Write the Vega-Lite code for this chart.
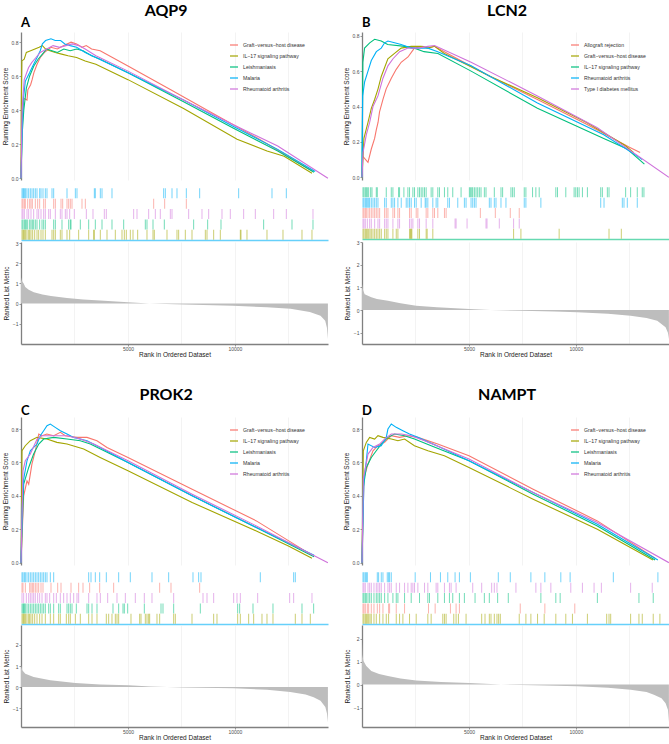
{
"$schema":"https://vega.github.io/schema/vega-lite/v6.json",
"padding":{"left":2,"top":3,"right":0,"bottom":0},
"background":"white",
"spacing":29,
"resolve":{"scale":{"color":"independent"},"legend":{"color":"independent"}},
"config":{
"font":"Liberation Sans",
"view":{"stroke":null},
"axis":{"labelFontSize":5,"labelColor":"#4D4D4D","titleFontSize":6.5,"titleFontWeight":"normal","titleColor":"#1A1A1A","domainColor":"#808080","domainWidth":1.3,"tickColor":"#808080","tickSize":2,"tickWidth":0.8,"labelPadding":1,"titlePadding":3,"gridColor":"#EBEBEB","gridWidth":0.6},
"axisX":{"labelPadding":0,"titlePadding":0},
"legend":{"labelFontSize":5.2,"labelColor":"#333333","symbolType":"stroke","symbolSize":64,"symbolStrokeWidth":1.2,"rowPadding":2,"labelOffset":4,"padding":0},
"title":{"font":"Lato","fontWeight":"bold","color":"#000000"}
},
"datasets":{
"esA":[
{"s":"Graft−versus−host disease","x":0,"y":0},{"s":"Graft−versus−host disease","x":50,"y":0.3},{"s":"Graft−versus−host disease","x":130,"y":0.47},{"s":"Graft−versus−host disease","x":280,"y":0.46},{"s":"Graft−versus−host disease","x":320,"y":0.52},{"s":"Graft−versus−host disease","x":450,"y":0.55},{"s":"Graft−versus−host disease","x":520,"y":0.58},{"s":"Graft−versus−host disease","x":600,"y":0.62},{"s":"Graft−versus−host disease","x":750,"y":0.67},{"s":"Graft−versus−host disease","x":900,"y":0.71},{"s":"Graft−versus−host disease","x":1100,"y":0.74},{"s":"Graft−versus−host disease","x":1400,"y":0.77},{"s":"Graft−versus−host disease","x":1700,"y":0.76},{"s":"Graft−versus−host disease","x":2000,"y":0.78},{"s":"Graft−versus−host disease","x":2340,"y":0.8},{"s":"Graft−versus−host disease","x":2600,"y":0.79},{"s":"Graft−versus−host disease","x":2850,"y":0.77},{"s":"Graft−versus−host disease","x":3050,"y":0.78},{"s":"Graft−versus−host disease","x":3300,"y":0.76},{"s":"Graft−versus−host disease","x":3700,"y":0.75},{"s":"Graft−versus−host disease","x":5000,"y":0.66},{"s":"Graft−versus−host disease","x":7000,"y":0.52},{"s":"Graft−versus−host disease","x":9000,"y":0.38},{"s":"Graft−versus−host disease","x":11000,"y":0.24},{"s":"Graft−versus−host disease","x":12500,"y":0.13},{"s":"Graft−versus−host disease","x":13650,"y":0.04},
{"s":"IL−17 signaling pathway","x":0,"y":0},{"s":"IL−17 signaling pathway","x":15,"y":0.45},{"s":"IL−17 signaling pathway","x":40,"y":0.69},{"s":"IL−17 signaling pathway","x":150,"y":0.7},{"s":"IL−17 signaling pathway","x":250,"y":0.74},{"s":"IL−17 signaling pathway","x":450,"y":0.75},{"s":"IL−17 signaling pathway","x":650,"y":0.76},{"s":"IL−17 signaling pathway","x":850,"y":0.77},{"s":"IL−17 signaling pathway","x":1000,"y":0.78},{"s":"IL−17 signaling pathway","x":1150,"y":0.76},{"s":"IL−17 signaling pathway","x":1350,"y":0.75},{"s":"IL−17 signaling pathway","x":1600,"y":0.74},{"s":"IL−17 signaling pathway","x":1900,"y":0.73},{"s":"IL−17 signaling pathway","x":2200,"y":0.72},{"s":"IL−17 signaling pathway","x":2600,"y":0.71},{"s":"IL−17 signaling pathway","x":3000,"y":0.69},{"s":"IL−17 signaling pathway","x":3500,"y":0.67},{"s":"IL−17 signaling pathway","x":5000,"y":0.58},{"s":"IL−17 signaling pathway","x":7600,"y":0.41},{"s":"IL−17 signaling pathway","x":10100,"y":0.23},{"s":"IL−17 signaling pathway","x":11500,"y":0.16},{"s":"IL−17 signaling pathway","x":12300,"y":0.13},{"s":"IL−17 signaling pathway","x":13600,"y":0.03},
{"s":"Leishmaniasis","x":0,"y":0},{"s":"Leishmaniasis","x":50,"y":0.25},{"s":"Leishmaniasis","x":130,"y":0.4},{"s":"Leishmaniasis","x":250,"y":0.53},{"s":"Leishmaniasis","x":400,"y":0.6},{"s":"Leishmaniasis","x":600,"y":0.66},{"s":"Leishmaniasis","x":800,"y":0.7},{"s":"Leishmaniasis","x":1000,"y":0.73},{"s":"Leishmaniasis","x":1200,"y":0.76},{"s":"Leishmaniasis","x":1450,"y":0.75},{"s":"Leishmaniasis","x":1700,"y":0.74},{"s":"Leishmaniasis","x":2000,"y":0.76},{"s":"Leishmaniasis","x":2300,"y":0.75},{"s":"Leishmaniasis","x":2600,"y":0.76},{"s":"Leishmaniasis","x":2900,"y":0.75},{"s":"Leishmaniasis","x":3300,"y":0.72},{"s":"Leishmaniasis","x":3700,"y":0.7},{"s":"Leishmaniasis","x":5000,"y":0.62},{"s":"Leishmaniasis","x":7600,"y":0.45},{"s":"Leishmaniasis","x":10000,"y":0.29},{"s":"Leishmaniasis","x":12000,"y":0.16},{"s":"Leishmaniasis","x":13700,"y":0.035},
{"s":"Malaria","x":0,"y":0},{"s":"Malaria","x":40,"y":0.2},{"s":"Malaria","x":100,"y":0.45},{"s":"Malaria","x":200,"y":0.57},{"s":"Malaria","x":400,"y":0.62},{"s":"Malaria","x":550,"y":0.66},{"s":"Malaria","x":750,"y":0.71},{"s":"Malaria","x":900,"y":0.75},{"s":"Malaria","x":1000,"y":0.79},{"s":"Malaria","x":1150,"y":0.81},{"s":"Malaria","x":1400,"y":0.82},{"s":"Malaria","x":1600,"y":0.81},{"s":"Malaria","x":1850,"y":0.81},{"s":"Malaria","x":2050,"y":0.79},{"s":"Malaria","x":2300,"y":0.78},{"s":"Malaria","x":2600,"y":0.77},{"s":"Malaria","x":3000,"y":0.74},{"s":"Malaria","x":3500,"y":0.71},{"s":"Malaria","x":5000,"y":0.62},{"s":"Malaria","x":7600,"y":0.46},{"s":"Malaria","x":10000,"y":0.3},{"s":"Malaria","x":12000,"y":0.17},{"s":"Malaria","x":13750,"y":0.04},
{"s":"Rheumatoid arthritis","x":0,"y":0},{"s":"Rheumatoid arthritis","x":50,"y":0.4},{"s":"Rheumatoid arthritis","x":150,"y":0.58},{"s":"Rheumatoid arthritis","x":350,"y":0.65},{"s":"Rheumatoid arthritis","x":500,"y":0.68},{"s":"Rheumatoid arthritis","x":700,"y":0.71},{"s":"Rheumatoid arthritis","x":900,"y":0.74},{"s":"Rheumatoid arthritis","x":1200,"y":0.76},{"s":"Rheumatoid arthritis","x":1500,"y":0.78},{"s":"Rheumatoid arthritis","x":1800,"y":0.77},{"s":"Rheumatoid arthritis","x":2100,"y":0.78},{"s":"Rheumatoid arthritis","x":2400,"y":0.79},{"s":"Rheumatoid arthritis","x":2700,"y":0.78},{"s":"Rheumatoid arthritis","x":3000,"y":0.76},{"s":"Rheumatoid arthritis","x":3500,"y":0.72},{"s":"Rheumatoid arthritis","x":5000,"y":0.63},{"s":"Rheumatoid arthritis","x":7600,"y":0.46},{"s":"Rheumatoid arthritis","x":10000,"y":0.31},{"s":"Rheumatoid arthritis","x":12000,"y":0.19},{"s":"Rheumatoid arthritis","x":14346,"y":0}
],
"tkA":[
{"s":"Malaria","x":47},{"s":"Malaria","x":93},{"s":"Malaria","x":125},{"s":"Malaria","x":171},{"s":"Malaria","x":218},{"s":"Malaria","x":280},{"s":"Malaria","x":358},{"s":"Malaria","x":436},{"s":"Malaria","x":514},{"s":"Malaria","x":592},{"s":"Malaria","x":670},{"s":"Malaria","x":748},{"s":"Malaria","x":872},{"s":"Malaria","x":935},{"s":"Malaria","x":1028},{"s":"Malaria","x":1137},{"s":"Malaria","x":1215},{"s":"Malaria","x":1449},{"s":"Malaria","x":1527},{"s":"Malaria","x":2150},{"s":"Malaria","x":2540},{"s":"Malaria","x":2617},{"s":"Malaria","x":3428},{"s":"Malaria","x":3474},{"s":"Malaria","x":3708},{"s":"Malaria","x":3786},{"s":"Malaria","x":4253},{"s":"Malaria","x":6668},{"s":"Malaria","x":6746},{"s":"Malaria","x":7058},{"s":"Malaria","x":7291},{"s":"Malaria","x":7728},{"s":"Malaria","x":8351},{"s":"Malaria","x":10174},{"s":"Malaria","x":11732},{"s":"Malaria","x":12402},
{"s":"Graft−versus−host disease","x":47},{"s":"Graft−versus−host disease","x":93},{"s":"Graft−versus−host disease","x":156},{"s":"Graft−versus−host disease","x":203},{"s":"Graft−versus−host disease","x":312},{"s":"Graft−versus−host disease","x":405},{"s":"Graft−versus−host disease","x":467},{"s":"Graft−versus−host disease","x":530},{"s":"Graft−versus−host disease","x":670},{"s":"Graft−versus−host disease","x":779},{"s":"Graft−versus−host disease","x":872},{"s":"Graft−versus−host disease","x":1059},{"s":"Graft−versus−host disease","x":1137},{"s":"Graft−versus−host disease","x":1527},{"s":"Graft−versus−host disease","x":1605},{"s":"Graft−versus−host disease","x":1870},{"s":"Graft−versus−host disease","x":1948},{"s":"Graft−versus−host disease","x":2150},{"s":"Graft−versus−host disease","x":2228},{"s":"Graft−versus−host disease","x":2306},{"s":"Graft−versus−host disease","x":2384},{"s":"Graft−versus−host disease","x":2851},{"s":"Graft−versus−host disease","x":3007},{"s":"Graft−versus−host disease","x":6201},{"s":"Graft−versus−host disease","x":6715},{"s":"Graft−versus−host disease","x":7728},
{"s":"Rheumatoid arthritis","x":47},{"s":"Rheumatoid arthritis","x":93},{"s":"Rheumatoid arthritis","x":156},{"s":"Rheumatoid arthritis","x":280},{"s":"Rheumatoid arthritis","x":358},{"s":"Rheumatoid arthritis","x":467},{"s":"Rheumatoid arthritis","x":592},{"s":"Rheumatoid arthritis","x":748},{"s":"Rheumatoid arthritis","x":826},{"s":"Rheumatoid arthritis","x":935},{"s":"Rheumatoid arthritis","x":1059},{"s":"Rheumatoid arthritis","x":1137},{"s":"Rheumatoid arthritis","x":1293},{"s":"Rheumatoid arthritis","x":1371},{"s":"Rheumatoid arthritis","x":1605},{"s":"Rheumatoid arthritis","x":1838},{"s":"Rheumatoid arthritis","x":1916},{"s":"Rheumatoid arthritis","x":2072},{"s":"Rheumatoid arthritis","x":2150},{"s":"Rheumatoid arthritis","x":2275},{"s":"Rheumatoid arthritis","x":2493},{"s":"Rheumatoid arthritis","x":3054},{"s":"Rheumatoid arthritis","x":3365},{"s":"Rheumatoid arthritis","x":3895},{"s":"Rheumatoid arthritis","x":3988},{"s":"Rheumatoid arthritis","x":5266},{"s":"Rheumatoid arthritis","x":5422},{"s":"Rheumatoid arthritis","x":5967},{"s":"Rheumatoid arthritis","x":6279},{"s":"Rheumatoid arthritis","x":6512},{"s":"Rheumatoid arthritis","x":6980},{"s":"Rheumatoid arthritis","x":7058},{"s":"Rheumatoid arthritis","x":7837},{"s":"Rheumatoid arthritis","x":8460},{"s":"Rheumatoid arthritis","x":8772},{"s":"Rheumatoid arthritis","x":9395},{"s":"Rheumatoid arthritis","x":9784},{"s":"Rheumatoid arthritis","x":10407},{"s":"Rheumatoid arthritis","x":10953},{"s":"Rheumatoid arthritis","x":11810},{"s":"Rheumatoid arthritis","x":12402},{"s":"Rheumatoid arthritis","x":13648},
{"s":"Leishmaniasis","x":47},{"s":"Leishmaniasis","x":93},{"s":"Leishmaniasis","x":156},{"s":"Leishmaniasis","x":203},{"s":"Leishmaniasis","x":249},{"s":"Leishmaniasis","x":312},{"s":"Leishmaniasis","x":405},{"s":"Leishmaniasis","x":467},{"s":"Leishmaniasis","x":530},{"s":"Leishmaniasis","x":592},{"s":"Leishmaniasis","x":670},{"s":"Leishmaniasis","x":748},{"s":"Leishmaniasis","x":872},{"s":"Leishmaniasis","x":982},{"s":"Leishmaniasis","x":1059},{"s":"Leishmaniasis","x":1137},{"s":"Leishmaniasis","x":1527},{"s":"Leishmaniasis","x":1605},{"s":"Leishmaniasis","x":1916},{"s":"Leishmaniasis","x":2228},{"s":"Leishmaniasis","x":2306},{"s":"Leishmaniasis","x":2337},{"s":"Leishmaniasis","x":2773},{"s":"Leishmaniasis","x":3163},{"s":"Leishmaniasis","x":3474},{"s":"Leishmaniasis","x":3786},{"s":"Leishmaniasis","x":4253},{"s":"Leishmaniasis","x":4799},{"s":"Leishmaniasis","x":5811},{"s":"Leishmaniasis","x":5889},{"s":"Leishmaniasis","x":6170},{"s":"Leishmaniasis","x":6699},{"s":"Leishmaniasis","x":8070},{"s":"Leishmaniasis","x":8725},{"s":"Leishmaniasis","x":9348},{"s":"Leishmaniasis","x":11342},{"s":"Leishmaniasis","x":12667},{"s":"Leishmaniasis","x":13648},
{"s":"IL−17 signaling pathway","x":47},{"s":"IL−17 signaling pathway","x":93},{"s":"IL−17 signaling pathway","x":125},{"s":"IL−17 signaling pathway","x":171},{"s":"IL−17 signaling pathway","x":218},{"s":"IL−17 signaling pathway","x":280},{"s":"IL−17 signaling pathway","x":358},{"s":"IL−17 signaling pathway","x":405},{"s":"IL−17 signaling pathway","x":467},{"s":"IL−17 signaling pathway","x":545},{"s":"IL−17 signaling pathway","x":639},{"s":"IL−17 signaling pathway","x":748},{"s":"IL−17 signaling pathway","x":826},{"s":"IL−17 signaling pathway","x":935},{"s":"IL−17 signaling pathway","x":1028},{"s":"IL−17 signaling pathway","x":1137},{"s":"IL−17 signaling pathway","x":1449},{"s":"IL−17 signaling pathway","x":1527},{"s":"IL−17 signaling pathway","x":1605},{"s":"IL−17 signaling pathway","x":1838},{"s":"IL−17 signaling pathway","x":1916},{"s":"IL−17 signaling pathway","x":2150},{"s":"IL−17 signaling pathway","x":2275},{"s":"IL−17 signaling pathway","x":2695},{"s":"IL−17 signaling pathway","x":3163},{"s":"IL−17 signaling pathway","x":3396},{"s":"IL−17 signaling pathway","x":3428},{"s":"IL−17 signaling pathway","x":3708},{"s":"IL−17 signaling pathway","x":4020},{"s":"IL−17 signaling pathway","x":4409},{"s":"IL−17 signaling pathway","x":4721},{"s":"IL−17 signaling pathway","x":4830},{"s":"IL−17 signaling pathway","x":4923},{"s":"IL−17 signaling pathway","x":5110},{"s":"IL−17 signaling pathway","x":5235},{"s":"IL−17 signaling pathway","x":5453},{"s":"IL−17 signaling pathway","x":5889},{"s":"IL−17 signaling pathway","x":6170},{"s":"IL−17 signaling pathway","x":6232},{"s":"IL−17 signaling pathway","x":6824},{"s":"IL−17 signaling pathway","x":7291},{"s":"IL−17 signaling pathway","x":7369},{"s":"IL−17 signaling pathway","x":7681},{"s":"IL−17 signaling pathway","x":7993},{"s":"IL−17 signaling pathway","x":8616},{"s":"IL−17 signaling pathway","x":8694},{"s":"IL−17 signaling pathway","x":9005},{"s":"IL−17 signaling pathway","x":9317},{"s":"IL−17 signaling pathway","x":10252},{"s":"IL−17 signaling pathway","x":10283},{"s":"IL−17 signaling pathway","x":10563},{"s":"IL−17 signaling pathway","x":11498},{"s":"IL−17 signaling pathway","x":12246},{"s":"IL−17 signaling pathway","x":13134},{"s":"IL−17 signaling pathway","x":13601}
],
"rkA":[{"x":0,"y":1.3},{"x":30,"y":1.15},{"x":125,"y":1.0},{"x":200,"y":0.82},{"x":360,"y":0.68},{"x":600,"y":0.56},{"x":1000,"y":0.45},{"x":1400,"y":0.38},{"x":2150,"y":0.28},{"x":2900,"y":0.2},{"x":3700,"y":0.15},{"x":5000,"y":0.07},{"x":6000,"y":0.01},{"x":7600,"y":-0.04},{"x":9900,"y":-0.11},{"x":11500,"y":-0.18},{"x":12600,"y":-0.26},{"x":13500,"y":-0.42},{"x":14000,"y":-0.6},{"x":14220,"y":-0.85},{"x":14300,"y":-1.2},{"x":14346,"y":-1.75}],
"esB":[
{"s":"Allograft rejection","x":0,"y":0},{"s":"Allograft rejection","x":30,"y":0.12},{"s":"Allograft rejection","x":280,"y":0.085},{"s":"Allograft rejection","x":435,"y":0.16},{"s":"Allograft rejection","x":590,"y":0.22},{"s":"Allograft rejection","x":670,"y":0.27},{"s":"Allograft rejection","x":750,"y":0.31},{"s":"Allograft rejection","x":820,"y":0.37},{"s":"Allograft rejection","x":980,"y":0.44},{"s":"Allograft rejection","x":1130,"y":0.5},{"s":"Allograft rejection","x":1370,"y":0.56},{"s":"Allograft rejection","x":1600,"y":0.61},{"s":"Allograft rejection","x":1830,"y":0.65},{"s":"Allograft rejection","x":2150,"y":0.68},{"s":"Allograft rejection","x":2450,"y":0.73},{"s":"Allograft rejection","x":2840,"y":0.74},{"s":"Allograft rejection","x":3080,"y":0.73},{"s":"Allograft rejection","x":3390,"y":0.74},{"s":"Allograft rejection","x":4000,"y":0.7},{"s":"Allograft rejection","x":6000,"y":0.57},{"s":"Allograft rejection","x":8200,"y":0.44},{"s":"Allograft rejection","x":10500,"y":0.3},{"s":"Allograft rejection","x":12500,"y":0.17},{"s":"Allograft rejection","x":13000,"y":0.14},
{"s":"Graft−versus−host disease","x":0,"y":0},{"s":"Graft−versus−host disease","x":90,"y":0.22},{"s":"Graft−versus−host disease","x":280,"y":0.31},{"s":"Graft−versus−host disease","x":435,"y":0.39},{"s":"Graft−versus−host disease","x":590,"y":0.44},{"s":"Graft−versus−host disease","x":750,"y":0.5},{"s":"Graft−versus−host disease","x":900,"y":0.57},{"s":"Graft−versus−host disease","x":1210,"y":0.67},{"s":"Graft−versus−host disease","x":1520,"y":0.7},{"s":"Graft−versus−host disease","x":1830,"y":0.73},{"s":"Graft−versus−host disease","x":2300,"y":0.74},{"s":"Graft−versus−host disease","x":2770,"y":0.74},{"s":"Graft−versus−host disease","x":3080,"y":0.73},{"s":"Graft−versus−host disease","x":3390,"y":0.74},{"s":"Graft−versus−host disease","x":3850,"y":0.7},{"s":"Graft−versus−host disease","x":6000,"y":0.57},{"s":"Graft−versus−host disease","x":8200,"y":0.45},{"s":"Graft−versus−host disease","x":10500,"y":0.31},{"s":"Graft−versus−host disease","x":12300,"y":0.18},{"s":"Graft−versus−host disease","x":12700,"y":0.14},
{"s":"IL−17 signaling pathway","x":0,"y":0},{"s":"IL−17 signaling pathway","x":40,"y":0.65},{"s":"IL−17 signaling pathway","x":120,"y":0.73},{"s":"IL−17 signaling pathway","x":360,"y":0.76},{"s":"IL−17 signaling pathway","x":590,"y":0.78},{"s":"IL−17 signaling pathway","x":900,"y":0.77},{"s":"IL−17 signaling pathway","x":1200,"y":0.75},{"s":"IL−17 signaling pathway","x":2000,"y":0.74},{"s":"IL−17 signaling pathway","x":2450,"y":0.73},{"s":"IL−17 signaling pathway","x":2900,"y":0.71},{"s":"IL−17 signaling pathway","x":3550,"y":0.7},{"s":"IL−17 signaling pathway","x":5100,"y":0.6},{"s":"IL−17 signaling pathway","x":8200,"y":0.39},{"s":"IL−17 signaling pathway","x":11300,"y":0.22},{"s":"IL−17 signaling pathway","x":12400,"y":0.16},{"s":"IL−17 signaling pathway","x":13200,"y":0.075},
{"s":"Rheumatoid arthritis","x":0,"y":0},{"s":"Rheumatoid arthritis","x":30,"y":0.46},{"s":"Rheumatoid arthritis","x":124,"y":0.54},{"s":"Rheumatoid arthritis","x":280,"y":0.6},{"s":"Rheumatoid arthritis","x":435,"y":0.66},{"s":"Rheumatoid arthritis","x":670,"y":0.71},{"s":"Rheumatoid arthritis","x":900,"y":0.73},{"s":"Rheumatoid arthritis","x":1057,"y":0.76},{"s":"Rheumatoid arthritis","x":1212,"y":0.77},{"s":"Rheumatoid arthritis","x":1520,"y":0.76},{"s":"Rheumatoid arthritis","x":1830,"y":0.75},{"s":"Rheumatoid arthritis","x":2300,"y":0.73},{"s":"Rheumatoid arthritis","x":2770,"y":0.73},{"s":"Rheumatoid arthritis","x":3080,"y":0.73},{"s":"Rheumatoid arthritis","x":3540,"y":0.71},{"s":"Rheumatoid arthritis","x":5100,"y":0.63},{"s":"Rheumatoid arthritis","x":8200,"y":0.42},{"s":"Rheumatoid arthritis","x":11300,"y":0.24},{"s":"Rheumatoid arthritis","x":12870,"y":0.12},{"s":"Rheumatoid arthritis","x":13100,"y":0.1},
{"s":"Type I diabetes mellitus","x":0,"y":0},{"s":"Type I diabetes mellitus","x":47,"y":0.14},{"s":"Type I diabetes mellitus","x":200,"y":0.24},{"s":"Type I diabetes mellitus","x":357,"y":0.31},{"s":"Type I diabetes mellitus","x":513,"y":0.4},{"s":"Type I diabetes mellitus","x":746,"y":0.46},{"s":"Type I diabetes mellitus","x":980,"y":0.56},{"s":"Type I diabetes mellitus","x":1212,"y":0.63},{"s":"Type I diabetes mellitus","x":1450,"y":0.67},{"s":"Type I diabetes mellitus","x":1760,"y":0.71},{"s":"Type I diabetes mellitus","x":2145,"y":0.73},{"s":"Type I diabetes mellitus","x":2610,"y":0.73},{"s":"Type I diabetes mellitus","x":3080,"y":0.74},{"s":"Type I diabetes mellitus","x":3390,"y":0.745},{"s":"Type I diabetes mellitus","x":5100,"y":0.65},{"s":"Type I diabetes mellitus","x":8200,"y":0.46},{"s":"Type I diabetes mellitus","x":11000,"y":0.28},{"s":"Type I diabetes mellitus","x":14346,"y":0}
],
"tkB":[
{"s":"IL−17 signaling pathway","x":47},{"s":"IL−17 signaling pathway","x":93},{"s":"IL−17 signaling pathway","x":155},{"s":"IL−17 signaling pathway","x":202},{"s":"IL−17 signaling pathway","x":249},{"s":"IL−17 signaling pathway","x":311},{"s":"IL−17 signaling pathway","x":404},{"s":"IL−17 signaling pathway","x":466},{"s":"IL−17 signaling pathway","x":668},{"s":"IL−17 signaling pathway","x":715},{"s":"IL−17 signaling pathway","x":1134},{"s":"IL−17 signaling pathway","x":1368},{"s":"IL−17 signaling pathway","x":1445},{"s":"IL−17 signaling pathway","x":1709},{"s":"IL−17 signaling pathway","x":1756},{"s":"IL−17 signaling pathway","x":1958},{"s":"IL−17 signaling pathway","x":2145},{"s":"IL−17 signaling pathway","x":2222},{"s":"IL−17 signaling pathway","x":2378},{"s":"IL−17 signaling pathway","x":2455},{"s":"IL−17 signaling pathway","x":2611},{"s":"IL−17 signaling pathway","x":2688},{"s":"IL−17 signaling pathway","x":2766},{"s":"IL−17 signaling pathway","x":2844},{"s":"IL−17 signaling pathway","x":2922},{"s":"IL−17 signaling pathway","x":2999},{"s":"IL−17 signaling pathway","x":3232},{"s":"IL−17 signaling pathway","x":3310},{"s":"IL−17 signaling pathway","x":3543},{"s":"IL−17 signaling pathway","x":3621},{"s":"IL−17 signaling pathway","x":3854},{"s":"IL−17 signaling pathway","x":4009},{"s":"IL−17 signaling pathway","x":4242},{"s":"IL−17 signaling pathway","x":4631},{"s":"IL−17 signaling pathway","x":5019},{"s":"IL−17 signaling pathway","x":5066},{"s":"IL−17 signaling pathway","x":5128},{"s":"IL−17 signaling pathway","x":5175},{"s":"IL−17 signaling pathway","x":5253},{"s":"IL−17 signaling pathway","x":5330},{"s":"IL−17 signaling pathway","x":5408},{"s":"IL−17 signaling pathway","x":5486},{"s":"IL−17 signaling pathway","x":5563},{"s":"IL−17 signaling pathway","x":5719},{"s":"IL−17 signaling pathway","x":5796},{"s":"IL−17 signaling pathway","x":6185},{"s":"IL−17 signaling pathway","x":6496},{"s":"IL−17 signaling pathway","x":6573},{"s":"IL−17 signaling pathway","x":6962},{"s":"IL−17 signaling pathway","x":7040},{"s":"IL−17 signaling pathway","x":7117},{"s":"IL−17 signaling pathway","x":7584},{"s":"IL−17 signaling pathway","x":7661},{"s":"IL−17 signaling pathway","x":7972},{"s":"IL−17 signaling pathway","x":8127},{"s":"IL−17 signaling pathway","x":8283},{"s":"IL−17 signaling pathway","x":9060},{"s":"IL−17 signaling pathway","x":9138},{"s":"IL−17 signaling pathway","x":9526},{"s":"IL−17 signaling pathway","x":9915},{"s":"IL−17 signaling pathway","x":9992},{"s":"IL−17 signaling pathway","x":10070},{"s":"IL−17 signaling pathway","x":10148},{"s":"IL−17 signaling pathway","x":10303},{"s":"IL−17 signaling pathway","x":10536},{"s":"IL−17 signaling pathway","x":11158},{"s":"IL−17 signaling pathway","x":11235},{"s":"IL−17 signaling pathway","x":11468},{"s":"IL−17 signaling pathway","x":11546},{"s":"IL−17 signaling pathway","x":12323},{"s":"IL−17 signaling pathway","x":12556},{"s":"IL−17 signaling pathway","x":12867},{"s":"IL−17 signaling pathway","x":13100},{"s":"IL−17 signaling pathway","x":13178},
{"s":"Rheumatoid arthritis","x":47},{"s":"Rheumatoid arthritis","x":93},{"s":"Rheumatoid arthritis","x":155},{"s":"Rheumatoid arthritis","x":202},{"s":"Rheumatoid arthritis","x":249},{"s":"Rheumatoid arthritis","x":311},{"s":"Rheumatoid arthritis","x":357},{"s":"Rheumatoid arthritis","x":435},{"s":"Rheumatoid arthritis","x":513},{"s":"Rheumatoid arthritis","x":591},{"s":"Rheumatoid arthritis","x":668},{"s":"Rheumatoid arthritis","x":746},{"s":"Rheumatoid arthritis","x":1057},{"s":"Rheumatoid arthritis","x":1134},{"s":"Rheumatoid arthritis","x":1368},{"s":"Rheumatoid arthritis","x":1445},{"s":"Rheumatoid arthritis","x":1523},{"s":"Rheumatoid arthritis","x":1678},{"s":"Rheumatoid arthritis","x":1834},{"s":"Rheumatoid arthritis","x":2067},{"s":"Rheumatoid arthritis","x":2145},{"s":"Rheumatoid arthritis","x":2222},{"s":"Rheumatoid arthritis","x":2300},{"s":"Rheumatoid arthritis","x":2455},{"s":"Rheumatoid arthritis","x":2533},{"s":"Rheumatoid arthritis","x":2766},{"s":"Rheumatoid arthritis","x":2953},{"s":"Rheumatoid arthritis","x":2999},{"s":"Rheumatoid arthritis","x":3077},{"s":"Rheumatoid arthritis","x":3310},{"s":"Rheumatoid arthritis","x":3465},{"s":"Rheumatoid arthritis","x":3543},{"s":"Rheumatoid arthritis","x":4009},{"s":"Rheumatoid arthritis","x":4087},{"s":"Rheumatoid arthritis","x":4476},{"s":"Rheumatoid arthritis","x":4786},{"s":"Rheumatoid arthritis","x":4864},{"s":"Rheumatoid arthritis","x":5097},{"s":"Rheumatoid arthritis","x":5175},{"s":"Rheumatoid arthritis","x":5253},{"s":"Rheumatoid arthritis","x":5330},{"s":"Rheumatoid arthritis","x":5952},{"s":"Rheumatoid arthritis","x":6029},{"s":"Rheumatoid arthritis","x":6185},{"s":"Rheumatoid arthritis","x":6263},{"s":"Rheumatoid arthritis","x":6496},{"s":"Rheumatoid arthritis","x":6729},{"s":"Rheumatoid arthritis","x":7584},{"s":"Rheumatoid arthritis","x":7661},{"s":"Rheumatoid arthritis","x":8361},{"s":"Rheumatoid arthritis","x":11158},{"s":"Rheumatoid arthritis","x":11313},{"s":"Rheumatoid arthritis","x":12168},{"s":"Rheumatoid arthritis","x":12246},{"s":"Rheumatoid arthritis","x":12401},{"s":"Rheumatoid arthritis","x":12867},
{"s":"Allograft rejection","x":47},{"s":"Allograft rejection","x":93},{"s":"Allograft rejection","x":155},{"s":"Allograft rejection","x":202},{"s":"Allograft rejection","x":280},{"s":"Allograft rejection","x":357},{"s":"Allograft rejection","x":435},{"s":"Allograft rejection","x":513},{"s":"Allograft rejection","x":591},{"s":"Allograft rejection","x":668},{"s":"Allograft rejection","x":746},{"s":"Allograft rejection","x":824},{"s":"Allograft rejection","x":1057},{"s":"Allograft rejection","x":1134},{"s":"Allograft rejection","x":1212},{"s":"Allograft rejection","x":1445},{"s":"Allograft rejection","x":1523},{"s":"Allograft rejection","x":1678},{"s":"Allograft rejection","x":1756},{"s":"Allograft rejection","x":2222},{"s":"Allograft rejection","x":2300},{"s":"Allograft rejection","x":2533},{"s":"Allograft rejection","x":2611},{"s":"Allograft rejection","x":2999},{"s":"Allograft rejection","x":3077},{"s":"Allograft rejection","x":3310},{"s":"Allograft rejection","x":3388},{"s":"Allograft rejection","x":3543},{"s":"Allograft rejection","x":3854},{"s":"Allograft rejection","x":3932},{"s":"Allograft rejection","x":5532},{"s":"Allograft rejection","x":6232},{"s":"Allograft rejection","x":6931},{"s":"Allograft rejection","x":7350},
{"s":"Type I diabetes mellitus","x":47},{"s":"Type I diabetes mellitus","x":93},{"s":"Type I diabetes mellitus","x":155},{"s":"Type I diabetes mellitus","x":249},{"s":"Type I diabetes mellitus","x":357},{"s":"Type I diabetes mellitus","x":435},{"s":"Type I diabetes mellitus","x":591},{"s":"Type I diabetes mellitus","x":746},{"s":"Type I diabetes mellitus","x":824},{"s":"Type I diabetes mellitus","x":1057},{"s":"Type I diabetes mellitus","x":1134},{"s":"Type I diabetes mellitus","x":1212},{"s":"Type I diabetes mellitus","x":1445},{"s":"Type I diabetes mellitus","x":1678},{"s":"Type I diabetes mellitus","x":1756},{"s":"Type I diabetes mellitus","x":2222},{"s":"Type I diabetes mellitus","x":2300},{"s":"Type I diabetes mellitus","x":2378},{"s":"Type I diabetes mellitus","x":2611},{"s":"Type I diabetes mellitus","x":2688},{"s":"Type I diabetes mellitus","x":2999},{"s":"Type I diabetes mellitus","x":3310},{"s":"Type I diabetes mellitus","x":4351},{"s":"Type I diabetes mellitus","x":4398},{"s":"Type I diabetes mellitus","x":4911},{"s":"Type I diabetes mellitus","x":5796},{"s":"Type I diabetes mellitus","x":5843},{"s":"Type I diabetes mellitus","x":6418},{"s":"Type I diabetes mellitus","x":7086},{"s":"Type I diabetes mellitus","x":7350},
{"s":"Graft−versus−host disease","x":47},{"s":"Graft−versus−host disease","x":93},{"s":"Graft−versus−host disease","x":155},{"s":"Graft−versus−host disease","x":202},{"s":"Graft−versus−host disease","x":249},{"s":"Graft−versus−host disease","x":311},{"s":"Graft−versus−host disease","x":373},{"s":"Graft−versus−host disease","x":435},{"s":"Graft−versus−host disease","x":513},{"s":"Graft−versus−host disease","x":591},{"s":"Graft−versus−host disease","x":668},{"s":"Graft−versus−host disease","x":746},{"s":"Graft−versus−host disease","x":824},{"s":"Graft−versus−host disease","x":901},{"s":"Graft−versus−host disease","x":1057},{"s":"Graft−versus−host disease","x":1134},{"s":"Graft−versus−host disease","x":1212},{"s":"Graft−versus−host disease","x":1445},{"s":"Graft−versus−host disease","x":1601},{"s":"Graft−versus−host disease","x":1678},{"s":"Graft−versus−host disease","x":2222},{"s":"Graft−versus−host disease","x":2269},{"s":"Graft−versus−host disease","x":2300},{"s":"Graft−versus−host disease","x":2331},{"s":"Graft−versus−host disease","x":2611},{"s":"Graft−versus−host disease","x":2688},{"s":"Graft−versus−host disease","x":2999},{"s":"Graft−versus−host disease","x":3046},{"s":"Graft−versus−host disease","x":3310},{"s":"Graft−versus−host disease","x":7086},{"s":"Graft−versus−host disease","x":7428},{"s":"Graft−versus−host disease","x":9215},{"s":"Graft−versus−host disease","x":11546},{"s":"Graft−versus−host disease","x":12121}
],
"rkB":[{"x":0,"y":1.15},{"x":40,"y":0.9},{"x":124,"y":0.7},{"x":435,"y":0.56},{"x":700,"y":0.48},{"x":1212,"y":0.41},{"x":1800,"y":0.3},{"x":2533,"y":0.19},{"x":3500,"y":0.12},{"x":5019,"y":0.04},{"x":6000,"y":0.0},{"x":7428,"y":-0.03},{"x":9000,"y":-0.07},{"x":10070,"y":-0.1},{"x":11500,"y":-0.16},{"x":12556,"y":-0.25},{"x":13300,"y":-0.35},{"x":13800,"y":-0.47},{"x":14190,"y":-0.76},{"x":14300,"y":-1.0},{"x":14346,"y":-1.28}],
"esC":[
{"s":"Graft−versus−host disease","x":0,"y":0},{"s":"Graft−versus−host disease","x":125,"y":0.4},{"s":"Graft−versus−host disease","x":280,"y":0.49},{"s":"Graft−versus−host disease","x":360,"y":0.47},{"s":"Graft−versus−host disease","x":510,"y":0.59},{"s":"Graft−versus−host disease","x":670,"y":0.67},{"s":"Graft−versus−host disease","x":830,"y":0.77},{"s":"Graft−versus−host disease","x":980,"y":0.76},{"s":"Graft−versus−host disease","x":1210,"y":0.77},{"s":"Graft−versus−host disease","x":1530,"y":0.76},{"s":"Graft−versus−host disease","x":1840,"y":0.78},{"s":"Graft−versus−host disease","x":2070,"y":0.76},{"s":"Graft−versus−host disease","x":2620,"y":0.75},{"s":"Graft−versus−host disease","x":3085,"y":0.75},{"s":"Graft−versus−host disease","x":3550,"y":0.73},{"s":"Graft−versus−host disease","x":4020,"y":0.69},{"s":"Graft−versus−host disease","x":5000,"y":0.63},{"s":"Graft−versus−host disease","x":8000,"y":0.44},{"s":"Graft−versus−host disease","x":11000,"y":0.25},{"s":"Graft−versus−host disease","x":13600,"y":0.045},
{"s":"IL−17 signaling pathway","x":0,"y":0},{"s":"IL−17 signaling pathway","x":47,"y":0.67},{"s":"IL−17 signaling pathway","x":200,"y":0.7},{"s":"IL−17 signaling pathway","x":436,"y":0.73},{"s":"IL−17 signaling pathway","x":750,"y":0.75},{"s":"IL−17 signaling pathway","x":1210,"y":0.74},{"s":"IL−17 signaling pathway","x":1680,"y":0.72},{"s":"IL−17 signaling pathway","x":2150,"y":0.71},{"s":"IL−17 signaling pathway","x":2930,"y":0.68},{"s":"IL−17 signaling pathway","x":3700,"y":0.63},{"s":"IL−17 signaling pathway","x":5000,"y":0.55},{"s":"IL−17 signaling pathway","x":8000,"y":0.36},{"s":"IL−17 signaling pathway","x":11000,"y":0.19},{"s":"IL−17 signaling pathway","x":12500,"y":0.1},{"s":"IL−17 signaling pathway","x":13600,"y":0.026},
{"s":"Leishmaniasis","x":0,"y":0},{"s":"Leishmaniasis","x":125,"y":0.47},{"s":"Leishmaniasis","x":360,"y":0.57},{"s":"Leishmaniasis","x":590,"y":0.65},{"s":"Leishmaniasis","x":830,"y":0.71},{"s":"Leishmaniasis","x":1060,"y":0.74},{"s":"Leishmaniasis","x":1530,"y":0.75},{"s":"Leishmaniasis","x":2150,"y":0.74},{"s":"Leishmaniasis","x":2770,"y":0.73},{"s":"Leishmaniasis","x":3240,"y":0.71},{"s":"Leishmaniasis","x":5000,"y":0.6},{"s":"Leishmaniasis","x":8000,"y":0.4},{"s":"Leishmaniasis","x":11000,"y":0.21},{"s":"Leishmaniasis","x":13700,"y":0.036},
{"s":"Malaria","x":0,"y":0},{"s":"Malaria","x":47,"y":0.32},{"s":"Malaria","x":125,"y":0.5},{"s":"Malaria","x":280,"y":0.61},{"s":"Malaria","x":436,"y":0.67},{"s":"Malaria","x":590,"y":0.69},{"s":"Malaria","x":750,"y":0.71},{"s":"Malaria","x":900,"y":0.76},{"s":"Malaria","x":1060,"y":0.79},{"s":"Malaria","x":1215,"y":0.82},{"s":"Malaria","x":1370,"y":0.83},{"s":"Malaria","x":1600,"y":0.81},{"s":"Malaria","x":1840,"y":0.79},{"s":"Malaria","x":2150,"y":0.77},{"s":"Malaria","x":2460,"y":0.75},{"s":"Malaria","x":3085,"y":0.73},{"s":"Malaria","x":3700,"y":0.69},{"s":"Malaria","x":5000,"y":0.6},{"s":"Malaria","x":8000,"y":0.4},{"s":"Malaria","x":11000,"y":0.21},{"s":"Malaria","x":13700,"y":0.045},
{"s":"Rheumatoid arthritis","x":0,"y":0},{"s":"Rheumatoid arthritis","x":93,"y":0.55},{"s":"Rheumatoid arthritis","x":200,"y":0.61},{"s":"Rheumatoid arthritis","x":436,"y":0.65},{"s":"Rheumatoid arthritis","x":750,"y":0.74},{"s":"Rheumatoid arthritis","x":980,"y":0.76},{"s":"Rheumatoid arthritis","x":1530,"y":0.76},{"s":"Rheumatoid arthritis","x":2150,"y":0.76},{"s":"Rheumatoid arthritis","x":2770,"y":0.74},{"s":"Rheumatoid arthritis","x":3400,"y":0.71},{"s":"Rheumatoid arthritis","x":5000,"y":0.61},{"s":"Rheumatoid arthritis","x":8000,"y":0.41},{"s":"Rheumatoid arthritis","x":11000,"y":0.22},{"s":"Rheumatoid arthritis","x":14346,"y":0}
],
"tkC":[
{"s":"Malaria","x":47},{"s":"Malaria","x":93},{"s":"Malaria","x":156},{"s":"Malaria","x":203},{"s":"Malaria","x":280},{"s":"Malaria","x":358},{"s":"Malaria","x":436},{"s":"Malaria","x":514},{"s":"Malaria","x":592},{"s":"Malaria","x":670},{"s":"Malaria","x":748},{"s":"Malaria","x":826},{"s":"Malaria","x":904},{"s":"Malaria","x":982},{"s":"Malaria","x":1059},{"s":"Malaria","x":1137},{"s":"Malaria","x":1215},{"s":"Malaria","x":1371},{"s":"Malaria","x":1527},{"s":"Malaria","x":3163},{"s":"Malaria","x":3272},{"s":"Malaria","x":3474},{"s":"Malaria","x":3677},{"s":"Malaria","x":3988},{"s":"Malaria","x":4565},{"s":"Malaria","x":5110},{"s":"Malaria","x":6123},{"s":"Malaria","x":6902},{"s":"Malaria","x":8039},{"s":"Malaria","x":8304},{"s":"Malaria","x":8413},{"s":"Malaria","x":11186},{"s":"Malaria","x":12744},{"s":"Malaria","x":12822},
{"s":"Graft−versus−host disease","x":47},{"s":"Graft−versus−host disease","x":93},{"s":"Graft−versus−host disease","x":203},{"s":"Graft−versus−host disease","x":405},{"s":"Graft−versus−host disease","x":467},{"s":"Graft−versus−host disease","x":530},{"s":"Graft−versus−host disease","x":592},{"s":"Graft−versus−host disease","x":670},{"s":"Graft−versus−host disease","x":748},{"s":"Graft−versus−host disease","x":826},{"s":"Graft−versus−host disease","x":935},{"s":"Graft−versus−host disease","x":1028},{"s":"Graft−versus−host disease","x":1402},{"s":"Graft−versus−host disease","x":1714},{"s":"Graft−versus−host disease","x":1870},{"s":"Graft−versus−host disease","x":2337},{"s":"Graft−versus−host disease","x":2695},{"s":"Graft−versus−host disease","x":2898},{"s":"Graft−versus−host disease","x":3209},{"s":"Graft−versus−host disease","x":3677},{"s":"Graft−versus−host disease","x":4331},{"s":"Graft−versus−host disease","x":6481},{"s":"Graft−versus−host disease","x":7011},{"s":"Graft−versus−host disease","x":8351},
{"s":"Rheumatoid arthritis","x":47},{"s":"Rheumatoid arthritis","x":125},{"s":"Rheumatoid arthritis","x":249},{"s":"Rheumatoid arthritis","x":358},{"s":"Rheumatoid arthritis","x":436},{"s":"Rheumatoid arthritis","x":514},{"s":"Rheumatoid arthritis","x":592},{"s":"Rheumatoid arthritis","x":670},{"s":"Rheumatoid arthritis","x":779},{"s":"Rheumatoid arthritis","x":872},{"s":"Rheumatoid arthritis","x":982},{"s":"Rheumatoid arthritis","x":1137},{"s":"Rheumatoid arthritis","x":1215},{"s":"Rheumatoid arthritis","x":1340},{"s":"Rheumatoid arthritis","x":1527},{"s":"Rheumatoid arthritis","x":1652},{"s":"Rheumatoid arthritis","x":1838},{"s":"Rheumatoid arthritis","x":1994},{"s":"Rheumatoid arthritis","x":2150},{"s":"Rheumatoid arthritis","x":2306},{"s":"Rheumatoid arthritis","x":2462},{"s":"Rheumatoid arthritis","x":2617},{"s":"Rheumatoid arthritis","x":2695},{"s":"Rheumatoid arthritis","x":3163},{"s":"Rheumatoid arthritis","x":3552},{"s":"Rheumatoid arthritis","x":3708},{"s":"Rheumatoid arthritis","x":4051},{"s":"Rheumatoid arthritis","x":4487},{"s":"Rheumatoid arthritis","x":4877},{"s":"Rheumatoid arthritis","x":5344},{"s":"Rheumatoid arthritis","x":5765},{"s":"Rheumatoid arthritis","x":6123},{"s":"Rheumatoid arthritis","x":7136},{"s":"Rheumatoid arthritis","x":8507},{"s":"Rheumatoid arthritis","x":8694},{"s":"Rheumatoid arthritis","x":9005},{"s":"Rheumatoid arthritis","x":9940},{"s":"Rheumatoid arthritis","x":10096},{"s":"Rheumatoid arthritis","x":10252},{"s":"Rheumatoid arthritis","x":11062},{"s":"Rheumatoid arthritis","x":12557},{"s":"Rheumatoid arthritis","x":12744},{"s":"Rheumatoid arthritis","x":13601},
{"s":"Leishmaniasis","x":47},{"s":"Leishmaniasis","x":93},{"s":"Leishmaniasis","x":125},{"s":"Leishmaniasis","x":156},{"s":"Leishmaniasis","x":203},{"s":"Leishmaniasis","x":280},{"s":"Leishmaniasis","x":358},{"s":"Leishmaniasis","x":436},{"s":"Leishmaniasis","x":514},{"s":"Leishmaniasis","x":592},{"s":"Leishmaniasis","x":670},{"s":"Leishmaniasis","x":748},{"s":"Leishmaniasis","x":826},{"s":"Leishmaniasis","x":904},{"s":"Leishmaniasis","x":982},{"s":"Leishmaniasis","x":1059},{"s":"Leishmaniasis","x":1137},{"s":"Leishmaniasis","x":1293},{"s":"Leishmaniasis","x":1371},{"s":"Leishmaniasis","x":1527},{"s":"Leishmaniasis","x":1760},{"s":"Leishmaniasis","x":1838},{"s":"Leishmaniasis","x":2150},{"s":"Leishmaniasis","x":2228},{"s":"Leishmaniasis","x":2306},{"s":"Leishmaniasis","x":2384},{"s":"Leishmaniasis","x":2586},{"s":"Leishmaniasis","x":3085},{"s":"Leishmaniasis","x":3163},{"s":"Leishmaniasis","x":3319},{"s":"Leishmaniasis","x":3552},{"s":"Leishmaniasis","x":4300},{"s":"Leishmaniasis","x":4565},{"s":"Leishmaniasis","x":4767},{"s":"Leishmaniasis","x":4830},{"s":"Leishmaniasis","x":4986},{"s":"Leishmaniasis","x":5765},{"s":"Leishmaniasis","x":6544},{"s":"Leishmaniasis","x":6637},{"s":"Leishmaniasis","x":7136},{"s":"Leishmaniasis","x":8382},{"s":"Leishmaniasis","x":10127},{"s":"Leishmaniasis","x":10220},{"s":"Leishmaniasis","x":10844},{"s":"Leishmaniasis","x":11778},{"s":"Leishmaniasis","x":13134},{"s":"Leishmaniasis","x":13679},
{"s":"IL−17 signaling pathway","x":47},{"s":"IL−17 signaling pathway","x":93},{"s":"IL−17 signaling pathway","x":125},{"s":"IL−17 signaling pathway","x":171},{"s":"IL−17 signaling pathway","x":218},{"s":"IL−17 signaling pathway","x":280},{"s":"IL−17 signaling pathway","x":358},{"s":"IL−17 signaling pathway","x":405},{"s":"IL−17 signaling pathway","x":467},{"s":"IL−17 signaling pathway","x":545},{"s":"IL−17 signaling pathway","x":639},{"s":"IL−17 signaling pathway","x":748},{"s":"IL−17 signaling pathway","x":872},{"s":"IL−17 signaling pathway","x":982},{"s":"IL−17 signaling pathway","x":1137},{"s":"IL−17 signaling pathway","x":1371},{"s":"IL−17 signaling pathway","x":1527},{"s":"IL−17 signaling pathway","x":1760},{"s":"IL−17 signaling pathway","x":1838},{"s":"IL−17 signaling pathway","x":2119},{"s":"IL−17 signaling pathway","x":2228},{"s":"IL−17 signaling pathway","x":2306},{"s":"IL−17 signaling pathway","x":2540},{"s":"IL−17 signaling pathway","x":2773},{"s":"IL−17 signaling pathway","x":3163},{"s":"IL−17 signaling pathway","x":3319},{"s":"IL−17 signaling pathway","x":3552},{"s":"IL−17 signaling pathway","x":3988},{"s":"IL−17 signaling pathway","x":4098},{"s":"IL−17 signaling pathway","x":4253},{"s":"IL−17 signaling pathway","x":4409},{"s":"IL−17 signaling pathway","x":4487},{"s":"IL−17 signaling pathway","x":4565},{"s":"IL−17 signaling pathway","x":5141},{"s":"IL−17 signaling pathway","x":5546},{"s":"IL−17 signaling pathway","x":5609},{"s":"IL−17 signaling pathway","x":5811},{"s":"IL−17 signaling pathway","x":5889},{"s":"IL−17 signaling pathway","x":5967},{"s":"IL−17 signaling pathway","x":6014},{"s":"IL−17 signaling pathway","x":6356},{"s":"IL−17 signaling pathway","x":6481},{"s":"IL−17 signaling pathway","x":7136},{"s":"IL−17 signaling pathway","x":7213},{"s":"IL−17 signaling pathway","x":7993},{"s":"IL−17 signaling pathway","x":9005},{"s":"IL−17 signaling pathway","x":9161},{"s":"IL−17 signaling pathway","x":10127},{"s":"IL−17 signaling pathway","x":10252},{"s":"IL−17 signaling pathway","x":10641},{"s":"IL−17 signaling pathway","x":10875},{"s":"IL−17 signaling pathway","x":11264},{"s":"IL−17 signaling pathway","x":11498},{"s":"IL−17 signaling pathway","x":11778},{"s":"IL−17 signaling pathway","x":12822},{"s":"IL−17 signaling pathway","x":13134},{"s":"IL−17 signaling pathway","x":13523}
],
"rkC":[{"x":0,"y":1.03},{"x":60,"y":0.8},{"x":203,"y":0.63},{"x":592,"y":0.48},{"x":1371,"y":0.32},{"x":2540,"y":0.19},{"x":3700,"y":0.12},{"x":5032,"y":0.08},{"x":6045,"y":0.02},{"x":7600,"y":-0.02},{"x":9940,"y":-0.06},{"x":11500,"y":-0.13},{"x":12589,"y":-0.24},{"x":13300,"y":-0.35},{"x":13679,"y":-0.48},{"x":14000,"y":-0.65},{"x":14225,"y":-0.95},{"x":14300,"y":-1.25},{"x":14346,"y":-1.67}],
"esD":[
{"s":"Graft−versus−host disease","x":0,"y":0},{"s":"Graft−versus−host disease","x":93,"y":0.51},{"s":"Graft−versus−host disease","x":280,"y":0.59},{"s":"Graft−versus−host disease","x":513,"y":0.67},{"s":"Graft−versus−host disease","x":746,"y":0.7},{"s":"Graft−versus−host disease","x":1057,"y":0.72},{"s":"Graft−versus−host disease","x":1370,"y":0.76},{"s":"Graft−versus−host disease","x":1760,"y":0.75},{"s":"Graft−versus−host disease","x":2145,"y":0.76},{"s":"Graft−versus−host disease","x":2610,"y":0.75},{"s":"Graft−versus−host disease","x":3540,"y":0.71},{"s":"Graft−versus−host disease","x":5000,"y":0.64},{"s":"Graft−versus−host disease","x":8000,"y":0.44},{"s":"Graft−versus−host disease","x":11000,"y":0.25},{"s":"Graft−versus−host disease","x":13700,"y":0.026},
{"s":"IL−17 signaling pathway","x":0,"y":0},{"s":"IL−17 signaling pathway","x":62,"y":0.67},{"s":"IL−17 signaling pathway","x":202,"y":0.72},{"s":"IL−17 signaling pathway","x":357,"y":0.75},{"s":"IL−17 signaling pathway","x":590,"y":0.74},{"s":"IL−17 signaling pathway","x":746,"y":0.76},{"s":"IL−17 signaling pathway","x":980,"y":0.75},{"s":"IL−17 signaling pathway","x":1370,"y":0.74},{"s":"IL−17 signaling pathway","x":1680,"y":0.73},{"s":"IL−17 signaling pathway","x":1990,"y":0.74},{"s":"IL−17 signaling pathway","x":2450,"y":0.7},{"s":"IL−17 signaling pathway","x":3080,"y":0.67},{"s":"IL−17 signaling pathway","x":3850,"y":0.64},{"s":"IL−17 signaling pathway","x":5000,"y":0.57},{"s":"IL−17 signaling pathway","x":8000,"y":0.38},{"s":"IL−17 signaling pathway","x":11000,"y":0.2},{"s":"IL−17 signaling pathway","x":13600,"y":0.016},
{"s":"Leishmaniasis","x":0,"y":0},{"s":"Leishmaniasis","x":62,"y":0.45},{"s":"Leishmaniasis","x":202,"y":0.57},{"s":"Leishmaniasis","x":435,"y":0.63},{"s":"Leishmaniasis","x":668,"y":0.67},{"s":"Leishmaniasis","x":901,"y":0.71},{"s":"Leishmaniasis","x":1212,"y":0.75},{"s":"Leishmaniasis","x":1523,"y":0.77},{"s":"Leishmaniasis","x":1989,"y":0.76},{"s":"Leishmaniasis","x":2455,"y":0.74},{"s":"Leishmaniasis","x":3232,"y":0.7},{"s":"Leishmaniasis","x":5000,"y":0.61},{"s":"Leishmaniasis","x":8000,"y":0.41},{"s":"Leishmaniasis","x":11000,"y":0.22},{"s":"Leishmaniasis","x":13700,"y":0.016},
{"s":"Malaria","x":0,"y":0},{"s":"Malaria","x":93,"y":0.5},{"s":"Malaria","x":202,"y":0.61},{"s":"Malaria","x":280,"y":0.71},{"s":"Malaria","x":590,"y":0.69},{"s":"Malaria","x":900,"y":0.7},{"s":"Malaria","x":1134,"y":0.75},{"s":"Malaria","x":1212,"y":0.8},{"s":"Malaria","x":1370,"y":0.83},{"s":"Malaria","x":1600,"y":0.81},{"s":"Malaria","x":1910,"y":0.79},{"s":"Malaria","x":2220,"y":0.77},{"s":"Malaria","x":2610,"y":0.75},{"s":"Malaria","x":3500,"y":0.7},{"s":"Malaria","x":5000,"y":0.61},{"s":"Malaria","x":8000,"y":0.42},{"s":"Malaria","x":11000,"y":0.23},{"s":"Malaria","x":13830,"y":0.016},
{"s":"Rheumatoid arthritis","x":0,"y":0},{"s":"Rheumatoid arthritis","x":62,"y":0.5},{"s":"Rheumatoid arthritis","x":280,"y":0.65},{"s":"Rheumatoid arthritis","x":513,"y":0.69},{"s":"Rheumatoid arthritis","x":824,"y":0.71},{"s":"Rheumatoid arthritis","x":1057,"y":0.74},{"s":"Rheumatoid arthritis","x":1368,"y":0.77},{"s":"Rheumatoid arthritis","x":1834,"y":0.77},{"s":"Rheumatoid arthritis","x":2300,"y":0.76},{"s":"Rheumatoid arthritis","x":2922,"y":0.73},{"s":"Rheumatoid arthritis","x":5000,"y":0.62},{"s":"Rheumatoid arthritis","x":8000,"y":0.42},{"s":"Rheumatoid arthritis","x":11000,"y":0.24},{"s":"Rheumatoid arthritis","x":14346,"y":0}
],
"tkD":[
{"s":"Malaria","x":47},{"s":"Malaria","x":93},{"s":"Malaria","x":155},{"s":"Malaria","x":202},{"s":"Malaria","x":249},{"s":"Malaria","x":715},{"s":"Malaria","x":777},{"s":"Malaria","x":901},{"s":"Malaria","x":979},{"s":"Malaria","x":1181},{"s":"Malaria","x":1243},{"s":"Malaria","x":1290},{"s":"Malaria","x":1368},{"s":"Malaria","x":2486},{"s":"Malaria","x":3201},{"s":"Malaria","x":3667},{"s":"Malaria","x":4009},{"s":"Malaria","x":4351},{"s":"Malaria","x":4553},{"s":"Malaria","x":5066},{"s":"Malaria","x":6371},{"s":"Malaria","x":6931},{"s":"Malaria","x":7894},{"s":"Malaria","x":8547},{"s":"Malaria","x":9293},{"s":"Malaria","x":9728},{"s":"Malaria","x":11748},{"s":"Malaria","x":13831},
{"s":"Rheumatoid arthritis","x":47},{"s":"Rheumatoid arthritis","x":93},{"s":"Rheumatoid arthritis","x":155},{"s":"Rheumatoid arthritis","x":280},{"s":"Rheumatoid arthritis","x":357},{"s":"Rheumatoid arthritis","x":435},{"s":"Rheumatoid arthritis","x":559},{"s":"Rheumatoid arthritis","x":668},{"s":"Rheumatoid arthritis","x":746},{"s":"Rheumatoid arthritis","x":824},{"s":"Rheumatoid arthritis","x":901},{"s":"Rheumatoid arthritis","x":1057},{"s":"Rheumatoid arthritis","x":1212},{"s":"Rheumatoid arthritis","x":1290},{"s":"Rheumatoid arthritis","x":1368},{"s":"Rheumatoid arthritis","x":1601},{"s":"Rheumatoid arthritis","x":1756},{"s":"Rheumatoid arthritis","x":1989},{"s":"Rheumatoid arthritis","x":2145},{"s":"Rheumatoid arthritis","x":2300},{"s":"Rheumatoid arthritis","x":2378},{"s":"Rheumatoid arthritis","x":2455},{"s":"Rheumatoid arthritis","x":2611},{"s":"Rheumatoid arthritis","x":2922},{"s":"Rheumatoid arthritis","x":3077},{"s":"Rheumatoid arthritis","x":3465},{"s":"Rheumatoid arthritis","x":3543},{"s":"Rheumatoid arthritis","x":3854},{"s":"Rheumatoid arthritis","x":4087},{"s":"Rheumatoid arthritis","x":4165},{"s":"Rheumatoid arthritis","x":4398},{"s":"Rheumatoid arthritis","x":5175},{"s":"Rheumatoid arthritis","x":5594},{"s":"Rheumatoid arthritis","x":6061},{"s":"Rheumatoid arthritis","x":6185},{"s":"Rheumatoid arthritis","x":6309},{"s":"Rheumatoid arthritis","x":7195},{"s":"Rheumatoid arthritis","x":8127},{"s":"Rheumatoid arthritis","x":8361},{"s":"Rheumatoid arthritis","x":8827},{"s":"Rheumatoid arthritis","x":9759},{"s":"Rheumatoid arthritis","x":10303},{"s":"Rheumatoid arthritis","x":10847},{"s":"Rheumatoid arthritis","x":11189},{"s":"Rheumatoid arthritis","x":12556},{"s":"Rheumatoid arthritis","x":13566},
{"s":"Leishmaniasis","x":47},{"s":"Leishmaniasis","x":93},{"s":"Leishmaniasis","x":155},{"s":"Leishmaniasis","x":202},{"s":"Leishmaniasis","x":280},{"s":"Leishmaniasis","x":357},{"s":"Leishmaniasis","x":435},{"s":"Leishmaniasis","x":559},{"s":"Leishmaniasis","x":668},{"s":"Leishmaniasis","x":746},{"s":"Leishmaniasis","x":824},{"s":"Leishmaniasis","x":901},{"s":"Leishmaniasis","x":1057},{"s":"Leishmaniasis","x":1212},{"s":"Leishmaniasis","x":1445},{"s":"Leishmaniasis","x":1601},{"s":"Leishmaniasis","x":1678},{"s":"Leishmaniasis","x":1989},{"s":"Leishmaniasis","x":2300},{"s":"Leishmaniasis","x":2688},{"s":"Leishmaniasis","x":3077},{"s":"Leishmaniasis","x":3155},{"s":"Leishmaniasis","x":3543},{"s":"Leishmaniasis","x":3854},{"s":"Leishmaniasis","x":4087},{"s":"Leishmaniasis","x":4242},{"s":"Leishmaniasis","x":4553},{"s":"Leishmaniasis","x":4786},{"s":"Leishmaniasis","x":5284},{"s":"Leishmaniasis","x":5719},{"s":"Leishmaniasis","x":5952},{"s":"Leishmaniasis","x":6340},{"s":"Leishmaniasis","x":6838},{"s":"Leishmaniasis","x":8361},{"s":"Leishmaniasis","x":9060},{"s":"Leishmaniasis","x":9262},{"s":"Leishmaniasis","x":11002},{"s":"Leishmaniasis","x":12945},{"s":"Leishmaniasis","x":13613},
{"s":"Graft−versus−host disease","x":47},{"s":"Graft−versus−host disease","x":93},{"s":"Graft−versus−host disease","x":155},{"s":"Graft−versus−host disease","x":249},{"s":"Graft−versus−host disease","x":311},{"s":"Graft−versus−host disease","x":435},{"s":"Graft−versus−host disease","x":559},{"s":"Graft−versus−host disease","x":715},{"s":"Graft−versus−host disease","x":824},{"s":"Graft−versus−host disease","x":979},{"s":"Graft−versus−host disease","x":1243},{"s":"Graft−versus−host disease","x":1290},{"s":"Graft−versus−host disease","x":1601},{"s":"Graft−versus−host disease","x":1989},{"s":"Graft−versus−host disease","x":3108},{"s":"Graft−versus−host disease","x":3419},{"s":"Graft−versus−host disease","x":4134},{"s":"Graft−versus−host disease","x":4398},{"s":"Graft−versus−host disease","x":4553},{"s":"Graft−versus−host disease","x":7397},{"s":"Graft−versus−host disease","x":8547},{"s":"Graft−versus−host disease","x":9946},
{"s":"IL−17 signaling pathway","x":47},{"s":"IL−17 signaling pathway","x":93},{"s":"IL−17 signaling pathway","x":155},{"s":"IL−17 signaling pathway","x":202},{"s":"IL−17 signaling pathway","x":249},{"s":"IL−17 signaling pathway","x":311},{"s":"IL−17 signaling pathway","x":373},{"s":"IL−17 signaling pathway","x":435},{"s":"IL−17 signaling pathway","x":559},{"s":"IL−17 signaling pathway","x":668},{"s":"IL−17 signaling pathway","x":824},{"s":"IL−17 signaling pathway","x":979},{"s":"IL−17 signaling pathway","x":1134},{"s":"IL−17 signaling pathway","x":1243},{"s":"IL−17 signaling pathway","x":1601},{"s":"IL−17 signaling pathway","x":1756},{"s":"IL−17 signaling pathway","x":1911},{"s":"IL−17 signaling pathway","x":2222},{"s":"IL−17 signaling pathway","x":2533},{"s":"IL−17 signaling pathway","x":3077},{"s":"IL−17 signaling pathway","x":3232},{"s":"IL−17 signaling pathway","x":3776},{"s":"IL−17 signaling pathway","x":3854},{"s":"IL−17 signaling pathway","x":3932},{"s":"IL−17 signaling pathway","x":4289},{"s":"IL−17 signaling pathway","x":4398},{"s":"IL−17 signaling pathway","x":4507},{"s":"IL−17 signaling pathway","x":4864},{"s":"IL−17 signaling pathway","x":5594},{"s":"IL−17 signaling pathway","x":5750},{"s":"IL−17 signaling pathway","x":5952},{"s":"IL−17 signaling pathway","x":6029},{"s":"IL−17 signaling pathway","x":6185},{"s":"IL−17 signaling pathway","x":6309},{"s":"IL−17 signaling pathway","x":6387},{"s":"IL−17 signaling pathway","x":6465},{"s":"IL−17 signaling pathway","x":7350},{"s":"IL−17 signaling pathway","x":7661},{"s":"IL−17 signaling pathway","x":7894},{"s":"IL−17 signaling pathway","x":8205},{"s":"IL−17 signaling pathway","x":8516},{"s":"IL−17 signaling pathway","x":9060},{"s":"IL−17 signaling pathway","x":9526},{"s":"IL−17 signaling pathway","x":9837},{"s":"IL−17 signaling pathway","x":10536},{"s":"IL−17 signaling pathway","x":11437},{"s":"IL−17 signaling pathway","x":11546},{"s":"IL−17 signaling pathway","x":11624},{"s":"IL−17 signaling pathway","x":12556},{"s":"IL−17 signaling pathway","x":12945},{"s":"IL−17 signaling pathway","x":13100},{"s":"IL−17 signaling pathway","x":13613},{"s":"IL−17 signaling pathway","x":13924}
],
"rkD":[{"x":0,"y":1.85},{"x":20,"y":1.3},{"x":62,"y":1.04},{"x":202,"y":0.81},{"x":435,"y":0.59},{"x":800,"y":0.46},{"x":1212,"y":0.37},{"x":1800,"y":0.27},{"x":2533,"y":0.18},{"x":3700,"y":0.11},{"x":5019,"y":0.07},{"x":6500,"y":0.0},{"x":8000,"y":-0.03},{"x":10070,"y":-0.07},{"x":11500,"y":-0.14},{"x":12556,"y":-0.22},{"x":13300,"y":-0.32},{"x":13644,"y":-0.44},{"x":14000,"y":-0.6},{"x":14190,"y":-0.81},{"x":14300,"y":-1.1},{"x":14346,"y":-1.63}]
},
"vconcat":[
{"hconcat":[
{"title":{"text":"AQP9","anchor":"middle","frame":"bounds","fontSize":16,"offset":-2},
"spacing":1,
"resolve":{"scale":{"color":"independent"},"legend":{"color":"independent"}},
"vconcat":[
{"title":{"text":"A","anchor":"start","frame":"group","fontSize":13,"offset":2},
"width":307,"height":148,"data":{"name":"esA"},
"mark":{"type":"line","strokeWidth":1.1},
"encoding":{
"x":{"field":"x","type":"quantitative","scale":{"domain":[0,14350],"nice":false,"zero":false},"axis":{"labels":false,"ticks":false,"domain":false,"title":null,"grid":true,"values":[2500,5000,7500,10000,12500]}},
"y":{"field":"y","type":"quantitative","scale":{"domain":[-0.01,0.86],"nice":false,"zero":false},"axis":{"values":[0,0.2,0.4,0.6,0.8],"format":".1f","title":"Running Enrichment Score","grid":false}},
"color":{"field":"s","type":"nominal","scale":{"domain":["Graft−versus−host disease","IL−17 signaling pathway","Leishmaniasis","Malaria","Rheumatoid arthritis"],"range":["#F8766D","#A3A500","#00BF7D","#00B0F6","#CF72DB"]},"legend":{"title":null,"orient":"none","legendX":208,"legendY":8}}}},
{"width":307,"height":57,"data":{"name":"tkA"},
"mark":{"type":"tick","thickness":1,"size":10,"opacity":0.55},
"encoding":{
"x":{"field":"x","type":"quantitative","scale":{"domain":[0,14350],"nice":false,"zero":false},"axis":{"labels":false,"ticks":false,"title":null,"grid":false,"domainColor":"#00B0F6","domainOpacity":0.6,"domainWidth":1.5}},
"y":{"field":"s","type":"nominal","sort":["Malaria","Graft−versus−host disease","Rheumatoid arthritis","Leishmaniasis","IL−17 signaling pathway"],"scale":{"type":"band","paddingInner":0,"paddingOuter":0.25,"align":1},"axis":null},
"color":{"field":"s","type":"nominal","scale":{"domain":["Graft−versus−host disease","IL−17 signaling pathway","Leishmaniasis","Malaria","Rheumatoid arthritis"],"range":["#F8766D","#A3A500","#00BF7D","#00B0F6","#CF72DB"]},"legend":null}}},
{"width":307,"height":102,"data":{"name":"rkA"},
"mark":{"type":"area","color":"#BDBDBD"},
"encoding":{
"x":{"field":"x","type":"quantitative","scale":{"domain":[0,14350],"nice":false,"zero":false},"axis":{"values":[2500,5000,7500,10000,12500],"format":"d","labelExpr":"datum.value % 5000 === 0 ? datum.label : ''","tickOpacity":{"condition":{"test":"datum.value % 5000 === 0","value":1},"value":0},"grid":true,"title":"Rank in Ordered Dataset"}},
"y":{"field":"y","type":"quantitative","scale":{"domain":[-2.0,3.05],"nice":false,"zero":false},"axis":{"values":[-1,0,1,2,3],"format":"d","title":"Ranked List Metric","grid":false}},
"y2":{"datum":0}}}
]},
{"title":{"text":"LCN2","anchor":"middle","frame":"bounds","fontSize":16,"offset":-2},
"spacing":1,
"resolve":{"scale":{"color":"independent"},"legend":{"color":"independent"}},
"vconcat":[
{"title":{"text":"B","anchor":"start","frame":"group","fontSize":13,"offset":2},
"width":307,"height":148,"data":{"name":"esB"},
"mark":{"type":"line","strokeWidth":1.1},
"encoding":{
"x":{"field":"x","type":"quantitative","scale":{"domain":[0,14350],"nice":false,"zero":false},"axis":{"labels":false,"ticks":false,"domain":false,"title":null,"grid":true,"values":[2500,5000,7500,10000,12500]}},
"y":{"field":"y","type":"quantitative","scale":{"domain":[-0.015,0.821],"nice":false,"zero":false},"axis":{"values":[0,0.2,0.4,0.6,0.8],"format":".1f","title":"Running Enrichment Score","grid":false}},
"color":{"field":"s","type":"nominal","scale":{"domain":["Allograft rejection","Graft−versus−host disease","IL−17 signaling pathway","Rheumatoid arthritis","Type I diabetes mellitus"],"range":["#F8766D","#A3A500","#00BF7D","#00B0F6","#CF72DB"]},"legend":{"title":null,"orient":"none","legendX":208,"legendY":8}}}},
{"width":307,"height":57,"data":{"name":"tkB"},
"mark":{"type":"tick","thickness":1,"size":10,"opacity":0.55},
"encoding":{
"x":{"field":"x","type":"quantitative","scale":{"domain":[0,14350],"nice":false,"zero":false},"axis":{"labels":false,"ticks":false,"title":null,"grid":false,"domainColor":"#00BF7D","domainOpacity":0.6,"domainWidth":1.5}},
"y":{"field":"s","type":"nominal","sort":["IL−17 signaling pathway","Rheumatoid arthritis","Allograft rejection","Type I diabetes mellitus","Graft−versus−host disease"],"scale":{"type":"band","paddingInner":0,"paddingOuter":0.25,"align":1},"axis":null},
"color":{"field":"s","type":"nominal","scale":{"domain":["Allograft rejection","Graft−versus−host disease","IL−17 signaling pathway","Rheumatoid arthritis","Type I diabetes mellitus"],"range":["#F8766D","#A3A500","#00BF7D","#00B0F6","#CF72DB"]},"legend":null}}},
{"width":307,"height":102,"data":{"name":"rkB"},
"mark":{"type":"area","color":"#BDBDBD"},
"encoding":{
"x":{"field":"x","type":"quantitative","scale":{"domain":[0,14350],"nice":false,"zero":false},"axis":{"values":[2500,5000,7500,10000,12500],"format":"d","labelExpr":"datum.value % 5000 === 0 ? datum.label : ''","tickOpacity":{"condition":{"test":"datum.value % 5000 === 0","value":1},"value":0},"grid":true,"title":"Rank in Ordered Dataset"}},
"y":{"field":"y","type":"quantitative","scale":{"domain":[-1.5,3.0],"nice":false,"zero":false},"axis":{"values":[-1,0,1,2,3],"format":"d","title":"Ranked List Metric","grid":false}},
"y2":{"datum":0}}}
]}
],"spacing":12,"resolve":{"scale":{"color":"independent"},"legend":{"color":"independent"}}},
{"hconcat":[
{"title":{"text":"PROK2","anchor":"middle","frame":"bounds","fontSize":16,"offset":2},
"spacing":1,
"resolve":{"scale":{"color":"independent"},"legend":{"color":"independent"}},
"vconcat":[
{"title":{"text":"C","anchor":"start","frame":"group","fontSize":13,"offset":-1},
"width":307,"height":148,"data":{"name":"esC"},
"mark":{"type":"line","strokeWidth":1.1},
"encoding":{
"x":{"field":"x","type":"quantitative","scale":{"domain":[0,14350],"nice":false,"zero":false},"axis":{"labels":false,"ticks":false,"domain":false,"title":null,"grid":true,"values":[2500,5000,7500,10000,12500]}},
"y":{"field":"y","type":"quantitative","scale":{"domain":[-0.014,0.872],"nice":false,"zero":false},"axis":{"values":[0,0.2,0.4,0.6,0.8],"format":".1f","title":"Running Enrichment Score","grid":false}},
"color":{"field":"s","type":"nominal","scale":{"domain":["Graft−versus−host disease","IL−17 signaling pathway","Leishmaniasis","Malaria","Rheumatoid arthritis"],"range":["#F8766D","#A3A500","#00BF7D","#00B0F6","#CF72DB"]},"legend":{"title":null,"orient":"none","legendX":208,"legendY":8}}}},
{"width":307,"height":57,"data":{"name":"tkC"},
"mark":{"type":"tick","thickness":1,"size":10,"opacity":0.55},
"encoding":{
"x":{"field":"x","type":"quantitative","scale":{"domain":[0,14350],"nice":false,"zero":false},"axis":{"labels":false,"ticks":false,"title":null,"grid":false,"domainColor":"#00B0F6","domainOpacity":0.6,"domainWidth":1.5}},
"y":{"field":"s","type":"nominal","sort":["Malaria","Graft−versus−host disease","Rheumatoid arthritis","Leishmaniasis","IL−17 signaling pathway"],"scale":{"type":"band","paddingInner":0,"paddingOuter":0.25,"align":1},"axis":null},
"color":{"field":"s","type":"nominal","scale":{"domain":["Graft−versus−host disease","IL−17 signaling pathway","Leishmaniasis","Malaria","Rheumatoid arthritis"],"range":["#F8766D","#A3A500","#00BF7D","#00B0F6","#CF72DB"]},"legend":null}}},
{"width":307,"height":102,"data":{"name":"rkC"},
"mark":{"type":"area","color":"#BDBDBD"},
"encoding":{
"x":{"field":"x","type":"quantitative","scale":{"domain":[0,14350],"nice":false,"zero":false},"axis":{"values":[2500,5000,7500,10000,12500],"format":"d","labelExpr":"datum.value % 5000 === 0 ? datum.label : ''","tickOpacity":{"condition":{"test":"datum.value % 5000 === 0","value":1},"value":0},"grid":true,"title":"Rank in Ordered Dataset"}},
"y":{"field":"y","type":"quantitative","scale":{"domain":[-1.9,2.95],"nice":false,"zero":false},"axis":{"values":[-1,0,1,2],"format":"d","title":"Ranked List Metric","grid":false}},
"y2":{"datum":0}}}
]},
{"title":{"text":"NAMPT","anchor":"middle","frame":"bounds","fontSize":16,"offset":2},
"spacing":1,
"resolve":{"scale":{"color":"independent"},"legend":{"color":"independent"}},
"vconcat":[
{"title":{"text":"D","anchor":"start","frame":"group","fontSize":13,"offset":-1},
"width":307,"height":148,"data":{"name":"esD"},
"mark":{"type":"line","strokeWidth":1.1},
"encoding":{
"x":{"field":"x","type":"quantitative","scale":{"domain":[0,14350],"nice":false,"zero":false},"axis":{"labels":false,"ticks":false,"domain":false,"title":null,"grid":true,"values":[2500,5000,7500,10000,12500]}},
"y":{"field":"y","type":"quantitative","scale":{"domain":[-0.014,0.872],"nice":false,"zero":false},"axis":{"values":[0,0.2,0.4,0.6,0.8],"format":".1f","title":"Running Enrichment Score","grid":false}},
"color":{"field":"s","type":"nominal","scale":{"domain":["Graft−versus−host disease","IL−17 signaling pathway","Leishmaniasis","Malaria","Rheumatoid arthritis"],"range":["#F8766D","#A3A500","#00BF7D","#00B0F6","#CF72DB"]},"legend":{"title":null,"orient":"none","legendX":208,"legendY":8}}}},
{"width":307,"height":57,"data":{"name":"tkD"},
"mark":{"type":"tick","thickness":1,"size":10,"opacity":0.55},
"encoding":{
"x":{"field":"x","type":"quantitative","scale":{"domain":[0,14350],"nice":false,"zero":false},"axis":{"labels":false,"ticks":false,"title":null,"grid":false,"domainColor":"#00B0F6","domainOpacity":0.6,"domainWidth":1.5}},
"y":{"field":"s","type":"nominal","sort":["Malaria","Rheumatoid arthritis","Leishmaniasis","Graft−versus−host disease","IL−17 signaling pathway"],"scale":{"type":"band","paddingInner":0,"paddingOuter":0.25,"align":1},"axis":null},
"color":{"field":"s","type":"nominal","scale":{"domain":["Graft−versus−host disease","IL−17 signaling pathway","Leishmaniasis","Malaria","Rheumatoid arthritis"],"range":["#F8766D","#A3A500","#00BF7D","#00B0F6","#CF72DB"]},"legend":null}}},
{"width":307,"height":102,"data":{"name":"rkD"},
"mark":{"type":"area","color":"#BDBDBD"},
"encoding":{
"x":{"field":"x","type":"quantitative","scale":{"domain":[0,14350],"nice":false,"zero":false},"axis":{"values":[2500,5000,7500,10000,12500],"format":"d","labelExpr":"datum.value % 5000 === 0 ? datum.label : ''","tickOpacity":{"condition":{"test":"datum.value % 5000 === 0","value":1},"value":0},"grid":true,"title":"Rank in Ordered Dataset"}},
"y":{"field":"y","type":"quantitative","scale":{"domain":[-1.85,2.6],"nice":false,"zero":false},"axis":{"values":[-1,0,1,2],"format":"d","title":"Ranked List Metric","grid":false}},
"y2":{"datum":0}}}
]}
],"spacing":12,"resolve":{"scale":{"color":"independent"},"legend":{"color":"independent"}}}
]
}
